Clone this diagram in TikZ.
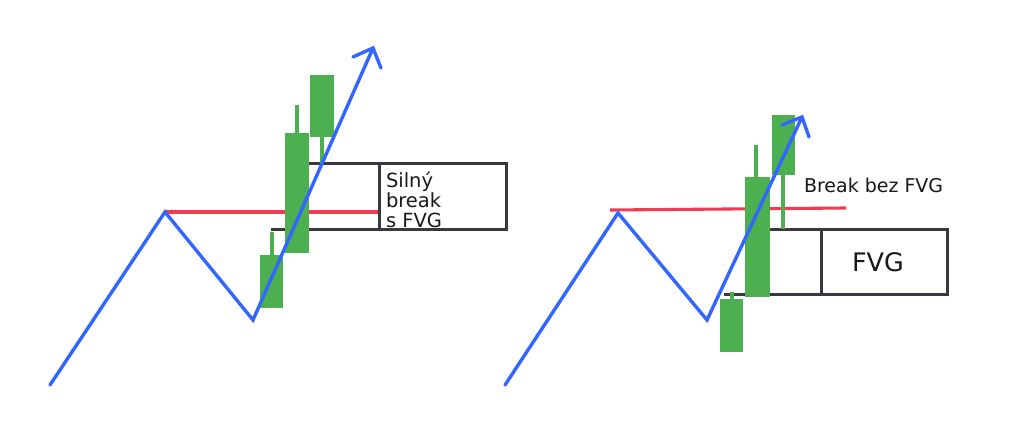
\documentclass[tikz,border=0pt]{standalone}
\usepackage{fontspec}
\setmainfont{DejaVu Sans}
\usetikzlibrary{arrows.meta}
\definecolor{cgreen}{RGB}{76,175,80}
\definecolor{cblue}{RGB}{51,102,255}
\definecolor{cred}{RGB}{240,60,80}
\definecolor{cbox}{RGB}{55,57,64}
\tikzset{
  candle/.style={fill=cgreen, draw=none, inner sep=0, outer sep=0},
  wick/.style={cgreen, line width=3.2pt},
  trend/.style={cblue, line width=3.4pt, line join=miter, line cap=round},
  level/.style={cred, line width=3.1pt},
  fvgbox/.style={cbox, line width=3pt},
  lbl/.style={inner sep=0, outer sep=0, text=black!90}
}
\begin{document}
\begin{tikzpicture}[x=1pt,y=-1pt]
\useasboundingbox (0,0) rectangle (1024,427);
\fill[white] (0,0) rectangle (1024,427);

% ---------- LEFT PANEL ----------
% box
\draw[fvgbox] (308,164) -- (506,164) -- (506,230) -- (271,230);
\draw[fvgbox] (379,164) -- (379,230);
% red level
\coordinate (Lpk) at (165,212);
\coordinate (Lre) at (378,212);
\draw[level] (Lpk) -- (Lre);
% candles
\draw[wick] (272,232) -- (272,256);
\fill[candle] (260,255) rectangle (283,308);
\draw[wick] (297,105) -- (297,134);
\fill[candle] (285,133) rectangle (309,253);
\draw[wick] (322,136) -- (322,163);
\fill[candle] (310,75) rectangle (334,137);
% trend
\coordinate (La) at (50,385);
\coordinate (Lb) at (165,212);
\coordinate (Lc) at (253,320);
\coordinate (Ld) at (373,48);
\coordinate (Ldl) at (353,57);
\coordinate (Ldr) at (381,68);
\draw[trend] (La) -- (Lb) -- (Lc) -- (Ld);
\draw[trend] (Ldl) -- (Ld) -- (Ldr);
% label
\node[lbl, anchor=north west, align=left, font=\fontsize{19.5}{20}\selectfont] (Ltxt) at (386,172) {Silný\\break\\s FVG};

% ---------- RIGHT PANEL ----------
% box
\draw[fvgbox] (770,230) -- (947,230) -- (947,294) -- (724,294);
\draw[fvgbox] (821,230) -- (821,294);
% red level
\coordinate (Rrs) at (610,210);
\coordinate (Rre) at (846,208);
\draw[level] (Rrs) -- (Rre);
% candles
\draw[wick] (732,292) -- (732,300);
\fill[candle] (720,299) rectangle (743,352);
\draw[wick] (756,145) -- (756,178);
\fill[candle] (745,177) rectangle (770,297);
\draw[wick] (783,174) -- (783,229);
\fill[candle] (772,115) rectangle (795,175);
% trend
\coordinate (Ra) at (505,385);
\coordinate (Rb) at (618,213);
\coordinate (Rc) at (707,320);
\coordinate (Rd) at (802,117);
\coordinate (Rdl) at (782,125);
\coordinate (Rdr) at (809,137);
\draw[trend] (Ra) -- (Rb) -- (Rc) -- (Rd);
\draw[trend] (Rdl) -- (Rd) -- (Rdr);
% labels
\node[lbl, anchor=base west, font=\fontsize{19}{20}\selectfont] (Rbrk) at (804,193) {Break bez FVG};
\node[lbl, anchor=center, font=\fontsize{25.5}{28}\selectfont] (Rfvg) at (878,262) {FVG};
\end{tikzpicture}
\end{document}
